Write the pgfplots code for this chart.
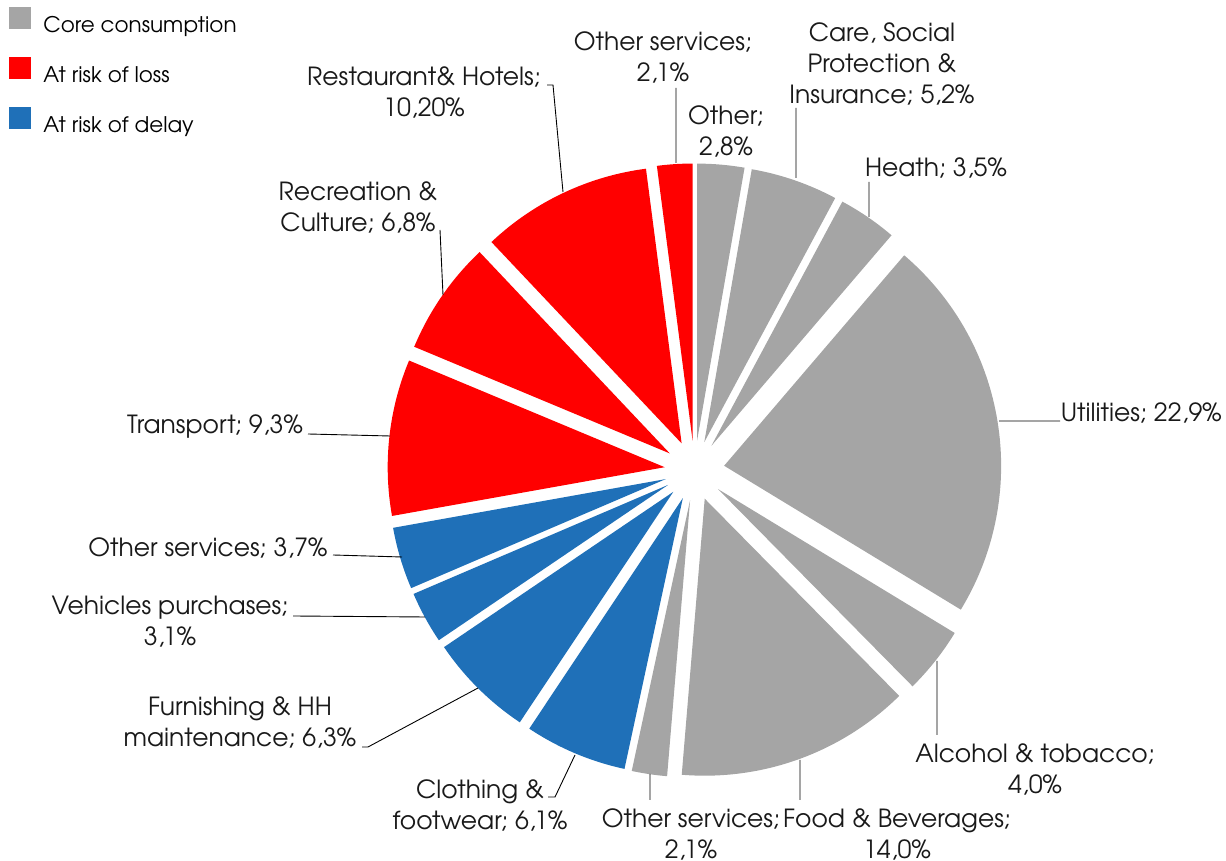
\documentclass[border=0pt]{standalone}
\usepackage{pgfplots}
\pgfplotsset{compat=1.18}
\usepackage{pgfplotstable}
\usepackage{fontspec}
\setmainfont{TeX Gyre Adventor}

\definecolor{core}{RGB}{165,165,165}
\definecolor{loss}{RGB}{255,0,0}
\definecolor{delay}{RGB}{31,112,184}

% shares in %, clockwise from 12 o'clock
\pgfplotstableread{
share group
2.8  core
5.2  core
3.5  core
22.9 core
4.0  core
14.0 core
2.1  core
6.1  delay
6.3  delay
3.1  delay
3.7  delay
9.3  loss
6.8  loss
10.2 loss
2.1  loss
}\slices

\newcommand\total{102.1}
\newcommand\pcx{694.5}
\newcommand\pcy{390.5}
\newcommand\prad{277}
\newcommand\pexpl{30}

\begin{document}
\begin{tikzpicture}[font=\fontsize{25}{31}\selectfont]
\begin{axis}[
  x=1pt, y=1pt,
  xmin=0, xmax=1226, ymin=0, ymax=861,
  hide axis, clip=false,
  at={(0,0)}, anchor=south west,
  legend style={at={(axis cs:9,854)}, anchor=north west,
    draw=none, fill=none, inner sep=0pt, outer sep=0pt,
    row sep=19pt, column sep=13pt,
    nodes={inner sep=0pt, text height=19pt, text depth=6pt},
    font=\fontsize{21.5}{26}\selectfont},
  legend cell align=left,
  legend image code/.code={\fill[#1] (0pt,-2.5pt) rectangle (21pt,18.5pt);},
]
\addlegendimage{core}
\addlegendentry{Core consumption}
\addlegendimage{loss}
\addlegendentry{At risk of loss}
\addlegendimage{delay}
\addlegendentry{At risk of delay}

\gdef\cum{0}
\pgfplotsinvokeforeach{0,...,14}{
  \pgfplotstablegetelem{#1}{share}\of\slices \let\sv\pgfplotsretval
  \pgfplotstablegetelem{#1}{group}\of\slices \let\sg\pgfplotsretval
  \pgfmathsetmacro\sa{90-(\cum/\total)*360}
  \pgfmathsetmacro\sb{90-((\cum+\sv)/\total)*360}
  \pgfmathsetmacro\px{\pcx+\pexpl*cos((\sa+\sb)/2)}
  \pgfmathsetmacro\py{\pcy+\pexpl*sin((\sa+\sb)/2)}
  \pgfmathsetmacro\qx{\px+\prad*cos(\sa)}
  \pgfmathsetmacro\qy{\py+\prad*sin(\sa)}
  \edef\slice{\noexpand\fill[\sg] (axis cs:\px,\py) -- (axis cs:\qx,\qy)
    arc[start angle=\sa, end angle=\sb, radius=\prad pt] -- cycle;}
  \slice
  \pgfmathsetmacro\sc{\cum+\sv}
  \xdef\cum{\sc}
}

% leader lines
\draw[black, line width=0.9pt]
  (axis cs:308,427) -- (axis cs:390,425)
  (axis cs:333,306) -- (axis cs:402,304)
  (axis cs:293,245) -- (axis cs:425,244)
  (axis cs:362,114) -- (axis cs:368,114) -- (axis cs:478,173)
  (axis cs:548,64) -- (axis cs:555,64) -- (axis cs:575,106)
  (axis cs:547,776) -- (axis cs:553,776) -- (axis cs:563,669)
  (axis cs:440,631) -- (axis cs:443,566)
  (axis cs:676,773) -- (axis cs:676,698)
  (axis cs:796,753) -- (axis cs:796,683)
  (axis cs:869,679) -- (axis cs:869,644)
  (axis cs:999,440) -- (axis cs:1060,440)
  (axis cs:937,200) -- (axis cs:937,126)
  (axis cs:800,101) -- (axis cs:800,61)
  (axis cs:650,87) -- (axis cs:650,61);

% data labels
\begin{scope}[every node/.style={align=center, inner sep=0pt, text=black!90}]
\node at (axis cs:215,434) {Transport; 9,3\%};
\node at (axis cs:208,313) {Other services; 3,7\%};
\node at (axis cs:170,239) {Vehicles purchases;\\3,1\%};
\node at (axis cs:240,138.5) {Furnishing \& HH\\maintenance; 6,3\%};
\node at (axis cs:480,56) {Clothing \&\\footwear; 6,1\%};
\node at (axis cs:691,27) {Other services;\\2,1\%};
\node at (axis cs:897,27) {Food \& Beverages;\\14,0\%};
\node at (axis cs:1035,92) {Alcohol \& tobacco;\\4,0\%};
\node[anchor=base east] at (axis cs:1222,439) {Utilities; 22,9\%};
\node at (axis cs:936,693) {Heath; 3,5\%};
\node at (axis cs:882,797) {Care, Social\\Protection \&\\Insurance; 5,2\%};
\node at (axis cs:726,729.5) {Other;\\2,8\%};
\node at (axis cs:663,803.5) {Other services;\\2,1\%};
\node at (axis cs:424,768.5) {Restaurant\& Hotels;\\10,20\%};
\node at (axis cs:358,654) {Recreation \&\\Culture; 6,8\%};
\end{scope}
\end{axis}
\pgfresetboundingbox
\path[use as bounding box] (0,0) rectangle (1226pt,861pt);
\end{tikzpicture}
\end{document}
